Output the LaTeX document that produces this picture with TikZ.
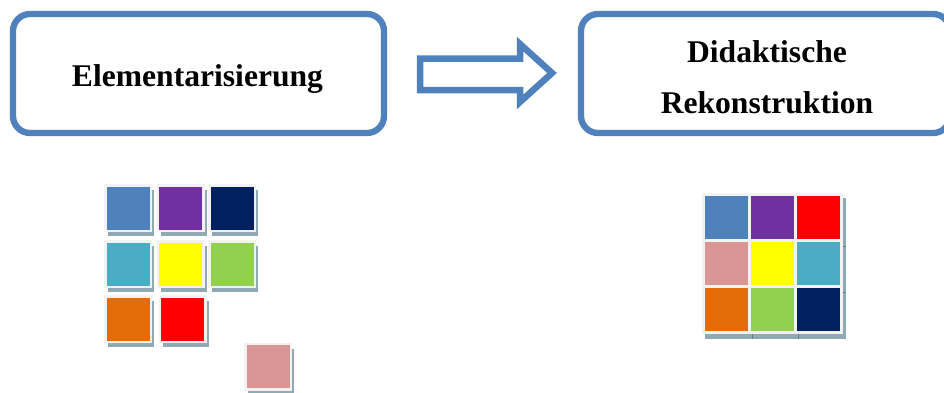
\documentclass[tikz,border=0pt]{standalone}
\usepackage{fontspec}
\setmainfont{Liberation Serif}
\usetikzlibrary{shadows}

\definecolor{frameblue}{HTML}{4F81BD}
\definecolor{cBlue}{HTML}{4F81BD}
\definecolor{cPurple}{HTML}{7030A0}
\definecolor{cNavy}{HTML}{002060}
\definecolor{cTeal}{HTML}{4BACC6}
\definecolor{cYellow}{HTML}{FFFF00}
\definecolor{cGreen}{HTML}{92D050}
\definecolor{cOrange}{HTML}{E36C09}
\definecolor{cRed}{HTML}{FF0000}
\definecolor{cPink}{HTML}{D99694}
\definecolor{tileedge}{HTML}{F2F2F2}
\definecolor{shade}{HTML}{8FAAB3}
\definecolor{shadetick}{HTML}{5F7F8C}

\begin{document}
\begin{tikzpicture}[x=1pt,y=-1pt,
  titlebox/.style={draw=frameblue, line width=6.3pt, rounded corners=17pt,
    rectangle, inner sep=0pt, fill=white},
  titletext/.style={anchor=base, inner sep=0pt,
    font=\fontsize{31.6}{51}\selectfont\bfseries},
  blockarrow/.style={draw=frameblue, line width=6.5pt, line join=miter, fill=white},
  tile/.style={rectangle, inner sep=0pt, minimum size=45.8pt,
    draw=tileedge, line width=2.4pt,
    drop shadow={shadow xshift=3pt, shadow yshift=-5pt, fill=shade, opacity=1}},
  cell/.style={rectangle, inner sep=0pt, minimum size=43.3pt},
  gridframe/.style={rectangle, inner sep=0pt, fill=tileedge,
    drop shadow={shadow xshift=3pt, shadow yshift=-5pt, fill=shade, opacity=1}},
  tick/.style={draw=shadetick, line width=0.8pt}
]
\useasboundingbox (0,0) rectangle (944,392);

% --- headline boxes ---
\node[titlebox, minimum width=371pt, minimum height=119pt] (elem) at (198.5,73.5) {};
\node[titlebox, minimum width=369pt, minimum height=119pt] (rekon) at (765.5,73.5) {};

\node[titletext] (elemtext) at (197.5,86) {Elementarisierung};
\node[titletext] (rekontext1) at (767,62) {Didaktische};
\node[titletext] (rekontext2) at (767,113.5) {Rekonstruktion};

% --- block arrow between the boxes ---
\draw[blockarrow] (420,58.7) -- (520,58.7) -- (520,44) -- (552,73)
  -- (520,102) -- (520,90) -- (420,90) -- cycle;

% --- loose elements ---
\foreach \nm/\c/\x/\y in {
    lb/cBlue/106.7/186.7, lp/cPurple/159/186.7, ln/cNavy/210.7/186.7,
    lt/cTeal/106.7/242.7, ly/cYellow/159/242.7, lg/cGreen/210.7/242.7,
    lo/cOrange/106.7/297.7, lr/cRed/161/297.7,
    lk/cPink/246.7/345}
  \node[tile, fill=\c] (\nm) at ({\x+21.65},{\y+21.65}) {};

% --- reconstructed grid ---
\node[gridframe, minimum width=140.4pt, minimum height=140.7pt] (grid) at (772.5,263.65) {};
\foreach \nm/\c/\x/\y in {
    g11/cBlue/705/196,   g12/cPurple/751/196,   g13/cRed/796.7/196,
    g21/cPink/705/242,   g22/cYellow/751/242,   g23/cTeal/796.7/242,
    g31/cOrange/705/287.7, g32/cGreen/751/287.7, g33/cNavy/796.7/287.7}
  \node[cell, fill=\c] (\nm) at ({\x+21.65},{\y+21.65}) {};

% shadow seams of the grid
\draw[tick] (752,334) -- (752,339);
\draw[tick] (798,334) -- (798,339);
\draw[tick] (842.7,246.7) -- (845.7,246.7);
\draw[tick] (842.7,292.7) -- (845.7,292.7);
\end{tikzpicture}
\end{document}
